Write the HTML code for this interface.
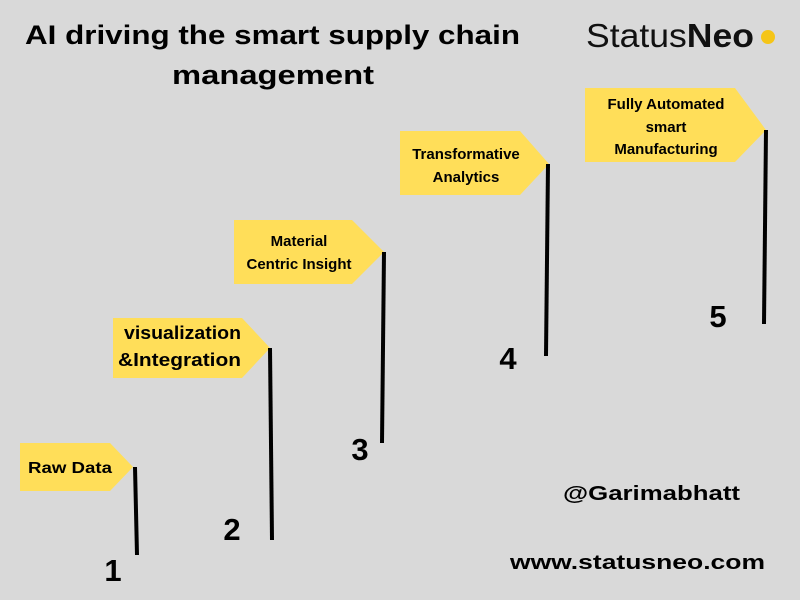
<!DOCTYPE html>
<html><head><style>html,body{margin:0;padding:0;background:#d9d9d9;}svg{display:block}</style></head>
<body>
<svg width="800" height="600" xmlns="http://www.w3.org/2000/svg" font-family="Liberation Sans, sans-serif">
<rect width="800" height="600" fill="#d9d9d9"/>
<text x="25" y="44" font-size="27" font-weight="bold" textLength="495" lengthAdjust="spacingAndGlyphs" fill="#000">AI driving the smart supply chain</text>
<text x="172" y="84" font-size="27" font-weight="bold" textLength="202" lengthAdjust="spacingAndGlyphs" fill="#000">management</text>
<text x="586" y="47" font-size="33" fill="#111" textLength="168" lengthAdjust="spacingAndGlyphs">Status<tspan font-weight="bold">Neo</tspan></text>
<circle cx="768" cy="37" r="7" fill="#f5c518"/>
<g fill="#ffde59">
<polygon points="20,443 110,443 133,467 110,491 20,491"/>
<polygon points="113,318 242,318 270,348 242,378 113,378"/>
<polygon points="234,220 352,220 384,252 352,284 234,284"/>
<polygon points="400,131 520,131 549,164 520,195 400,195"/>
<polygon points="585,88 735,88 766,130 735,162 585,162"/>
</g>
<g stroke="#000" stroke-width="4">
<line x1="135" y1="467" x2="137" y2="555"/>
<line x1="270" y1="348" x2="272" y2="540"/>
<line x1="384" y1="252" x2="382" y2="443"/>
<line x1="548" y1="164" x2="546" y2="356"/>
<line x1="766" y1="130" x2="764" y2="324"/>
</g>
<g font-weight="bold" fill="#000">
<text x="28" y="473" font-size="16" textLength="84" lengthAdjust="spacingAndGlyphs">Raw Data</text>
<text x="124" y="339" font-size="18" textLength="117" lengthAdjust="spacingAndGlyphs">visualization</text>
<text x="118" y="366" font-size="18" textLength="123" lengthAdjust="spacingAndGlyphs">&amp;Integration</text>
<text x="299" y="246" font-size="15" text-anchor="middle">Material</text>
<text x="299" y="269" font-size="15" text-anchor="middle">Centric Insight</text>
<text x="466" y="159" font-size="15" text-anchor="middle">Transformative</text>
<text x="466" y="182" font-size="15" text-anchor="middle">Analytics</text>
<text x="666" y="109" font-size="15" text-anchor="middle">Fully Automated</text>
<text x="666" y="132" font-size="15" text-anchor="middle">smart</text>
<text x="666" y="154" font-size="15" text-anchor="middle">Manufacturing</text>
<text x="113" y="581" font-size="31" text-anchor="middle">1</text>
<text x="232" y="540" font-size="31" text-anchor="middle">2</text>
<text x="360" y="460" font-size="31" text-anchor="middle">3</text>
<text x="508" y="369" font-size="31" text-anchor="middle">4</text>
<text x="718" y="327" font-size="31" text-anchor="middle">5</text>
<text x="563" y="500" font-size="20" textLength="177" lengthAdjust="spacingAndGlyphs">@Garimabhatt</text>
<text x="510" y="569" font-size="20" textLength="255" lengthAdjust="spacingAndGlyphs">www.statusneo.com</text>
</g>
</svg>
</body></html>
